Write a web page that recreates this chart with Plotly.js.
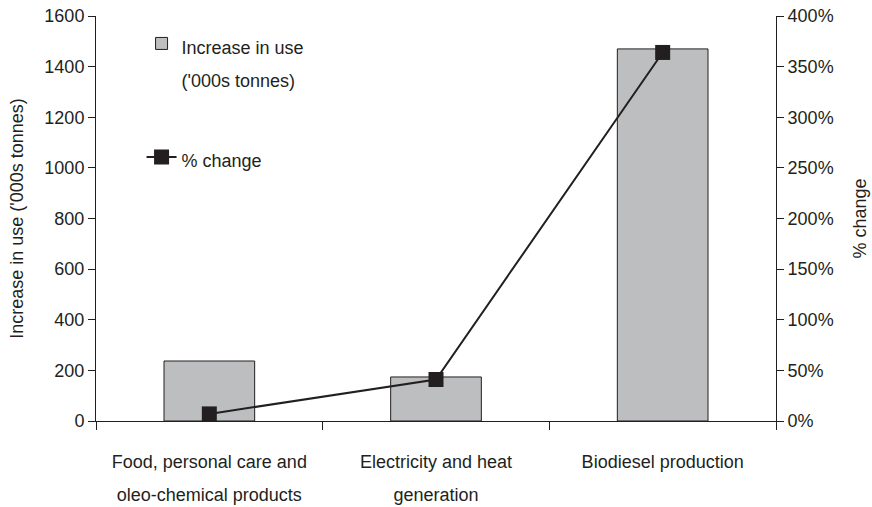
<!DOCTYPE html>
<html>
<head>
<meta charset="utf-8">
<script src="https://cdn.plot.ly/plotly-3.0.1.min.js"></script>
<style>html,body{margin:0;padding:0;background:#fff;}#chart{width:872px;height:507px;}</style>
</head>
<body>
<div id="chart"></div>
<script>
var categories = ["Food", "Electricity", "Biodiesel"];
var tickLines = [
  ["Food, personal care and", "oleo-chemical products"],
  ["Electricity and heat", "generation"],
  ["Biodiesel production", ""]
];
var increaseInUse = [237, 174, 1470];
var pctChange = [7, 41, 364];

var ink = "#231f20";
var fnt = "Liberation Sans, Arial, sans-serif";
var txt = 18;
function sp(s){ return "<span style='font-size:" + txt + "px'>" + s + "</span>"; }
var tickText = tickLines.map(function(l){ return l.map(sp).join("<br>"); });

var traces = [
  {
    type: "bar", x: categories, y: increaseInUse,
    name: sp("Increase in use") + "<br>" + sp("('000s tonnes)"),
    marker: {color: "#bcbec0", line: {color: ink, width: 1}},
    legendgroup: "a"
  },
  {
    type: "scatter", mode: "lines+markers", x: categories, y: pctChange, yaxis: "y2",
    name: sp("% change"),
    line: {color: ink, width: 2},
    marker: {symbol: "square", size: 15, color: ink},
    legendgroup: "b"
  }
];

var layout = {
  width: 872, height: 507,
  margin: {l: 96, r: 96, t: 16, b: 86},
  paper_bgcolor: "#fff", plot_bgcolor: "#fff",
  font: {family: fnt, size: txt, color: ink},
  bargap: 0.6,
  showlegend: true,
  legend: {x: 0.067, y: 0.99, xanchor: "left", yanchor: "top", bgcolor: "rgba(0,0,0,0)",
           font: {size: 26, family: fnt, color: ink}, valign: "top", tracegroupgap: 43,
           traceorder: "grouped"},
  xaxis: {
    type: "category", tickvals: categories, ticktext: tickText,
    tickson: "boundaries", ticks: "outside", ticklen: 8, tickcolor: ink,
    ticklabelstandoff: 16,
    showline: true, linecolor: ink, linewidth: 1, showgrid: false, zeroline: false,
    tickfont: {size: 25, family: fnt, color: ink}, fixedrange: true
  },
  yaxis: {
    range: [0, 1600], dtick: 200, ticks: "outside", ticklen: 7, tickcolor: ink,
    showline: true, linecolor: ink, linewidth: 1, showgrid: false, zeroline: false,
    tickfont: {size: txt, family: fnt, color: ink},
    title: {text: "Increase in use ('000s tonnes)", standoff: 16, font: {size: txt, family: fnt, color: ink}}
  },
  yaxis2: {
    overlaying: "y", side: "right", range: [0, 400], dtick: 50, ticksuffix: "%",
    ticks: "outside", ticklen: 7, tickcolor: ink,
    showline: true, linecolor: ink, linewidth: 1, showgrid: false, zeroline: false,
    tickfont: {size: txt, family: fnt, color: ink},
    title: {text: "% change", standoff: 20, font: {size: txt, family: fnt, color: ink}}
  }
};

Plotly.newPlot("chart", traces, layout, {displayModeBar: false, staticPlot: true});
</script>
</body>
</html>
